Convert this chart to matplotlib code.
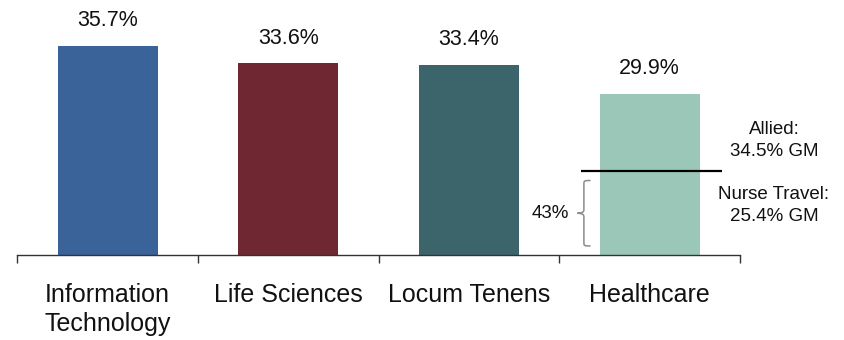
import matplotlib
matplotlib.use("Agg")
import matplotlib.pyplot as plt
from matplotlib.path import Path
from matplotlib.patches import PathPatch

plt.rcParams['font.family'] = ['Liberation Sans', 'DejaVu Sans']

# Gross margin by segment
categories = ["Information\nTechnology", "Life Sciences", "Locum Tenens", "Healthcare"]
gross_margin = [35.7, 33.6, 33.4, 29.9]
bar_labels = ["35.7%", "33.6%", "33.4%", "29.9%"]
bar_colors = ["#3A6399", "#6F2832", "#3C646B", "#9BC7B9"]

# Healthcare split
allied_label = "Allied:\n34.5% GM"
nurse_label = "Nurse Travel:\n25.4% GM"
nurse_share_label = "43%"
split_level = 20.5

fig = plt.figure(figsize=(8.44, 3.40), dpi=100)
ax = fig.add_axes([17.3 / 844, 0.25, (740 - 17.3) / 844, 244.4 / 340])

x = list(range(len(categories)))
ax.bar(x, gross_margin, width=0.553, color=bar_colors)
ax.set_xlim(-0.5, len(categories) - 0.5)
ax.set_ylim(10.3, 40)

for xi, v, lab in zip(x, gross_margin, bar_labels):
    ax.annotate(lab, xy=(xi, v), xytext=(0, 14.2), textcoords="offset points",
                ha="center", va="baseline", fontsize=15.5, color="#111111")

# Axis styling
for side in ("top", "right", "left"):
    ax.spines[side].set_visible(False)
ax.spines["bottom"].set_color("#333333")
ax.spines["bottom"].set_linewidth(1.0)
ax.set_yticks([])
ax.set_xticks(x)
ax.set_xticklabels(categories, fontsize=18, linespacing=1.25, multialignment="center")
ax.tick_params(axis="x", which="major", length=0, pad=20, colors="#111111")
ax.set_xticks([i - 0.5 for i in range(len(categories) + 1)], minor=True)
ax.tick_params(axis="x", which="minor", length=6, width=1, color="#333333", direction="out")

# Divider across the healthcare bar
ax.plot([2.62, 3.40], [split_level, split_level], color="black", lw=1.6,
        solid_capstyle="butt", clip_on=False)

# Curly brace for the nurse travel share
y0, y1 = 11.4, 19.35
ym = (y0 + y1) / 2
xb, xt, xe = 2.636, 2.600, 2.673
verts = [
    (xe, y1), (xb, y1), (xb, y1), (xb, y1 - 0.5),
    (xb, ym + 0.4), (xb, ym), (xt, ym),
    (xb, ym), (xb, ym - 0.4), (xb, y0 + 0.5),
    (xb, y0), (xb, y0), (xe, y0),
]
codes = [Path.MOVETO, Path.CURVE4, Path.CURVE4, Path.CURVE4,
         Path.LINETO, Path.CURVE3, Path.CURVE3,
         Path.CURVE3, Path.CURVE3, Path.LINETO,
         Path.CURVE4, Path.CURVE4, Path.CURVE4]
ax.add_patch(PathPatch(Path(verts, codes), fill=False, edgecolor="#8C8C8C", lw=1.1,
                       clip_on=False))

ax.text(2.448, ym, nurse_share_label, ha="center", va="center", fontsize=13.5,
        color="#111111")
ax.text(3.688, 24.2, allied_label, ha="center", va="center", fontsize=13.5,
        linespacing=1.35, color="#111111", clip_on=False)
ax.text(3.688, 16.3, nurse_label, ha="center", va="center", fontsize=13.5,
        linespacing=1.35, color="#111111", clip_on=False)

fig.savefig("out.png", dpi=100)
